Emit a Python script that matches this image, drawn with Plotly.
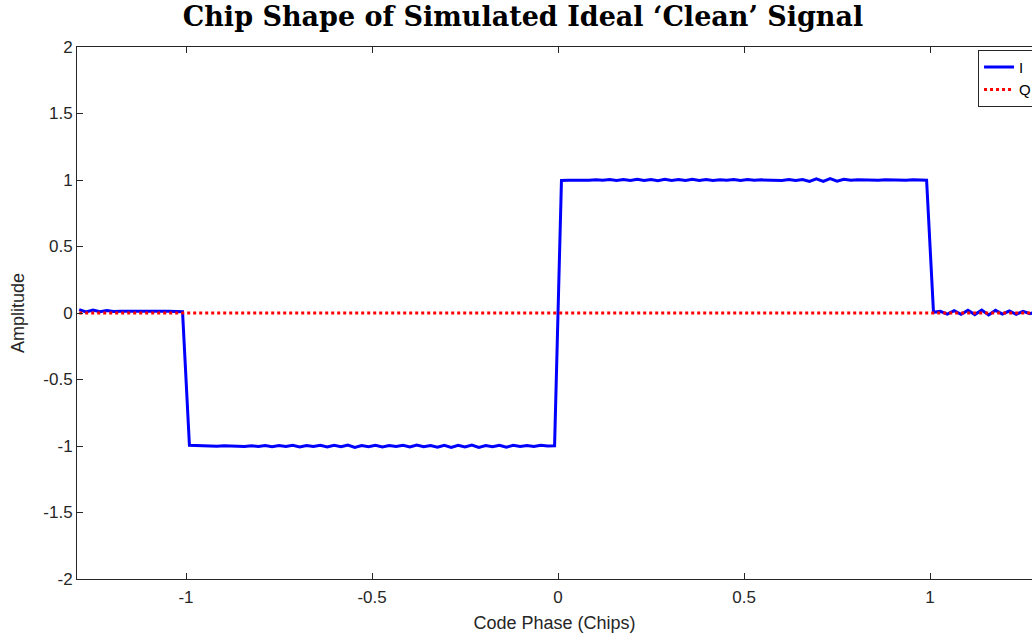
import numpy as np
import plotly.graph_objects as go

# Sampling: 54 samples per chip, offset so the chip edges fall between samples
SAMPLES_PER_CHIP = 54
SAMPLE_OFFSET = -0.0093
SAMPLE_INDEX = np.arange(-69, 71)

# In-phase samples (before chip, chip -1, chip +1, after chip)
I_PRE = [0.025, 0.008, 0.022, 0.010, 0.018, 0.012, 0.014, 0.013,
         0.014, 0.013, 0.014, 0.014, 0.013, 0.014, 0.013, 0.010]
I_NEG = [-0.995, -0.997, -1.000, -0.998, -1.002, -0.999, -1.001, -0.998, -1.003, -0.999,
         -1.004, -0.996, -1.006, -0.997, -1.003, -0.995, -1.007, -0.996, -1.004, -0.994,
         -1.008, -0.995, -1.006, -0.993, -1.010, -0.996, -1.005, -0.994, -1.007, -0.997,
         -1.004, -0.995, -1.008, -0.993, -1.006, -0.996, -1.009, -0.994, -1.011, -0.995,
         -1.008, -0.993, -1.010, -0.996, -1.006, -0.994, -1.009, -0.995, -1.004, -0.996,
         -1.003, -0.995, -1.000, -0.998]
I_POS = [0.997, 0.999, 0.998, 1.001, 0.999, 1.002, 0.998, 1.003, 0.997, 1.004,
         0.996, 1.005, 0.997, 1.004, 0.995, 1.006, 0.996, 1.003, 0.997, 1.005,
         0.996, 1.003, 0.997, 1.002, 0.998, 1.004, 0.996, 1.003, 0.998, 1.001,
         0.999, 1.002, 0.997, 1.003, 0.996, 1.004, 0.990, 1.008, 0.989, 1.010,
         0.991, 1.006, 0.998, 1.001, 0.999, 1.000, 0.998, 1.001, 0.999, 1.000,
         0.999, 1.001, 1.000, 0.999]
I_POST = [0.005, 0.012, -0.008, 0.018, -0.010, 0.020, -0.012, 0.022,
          -0.015, 0.020, -0.008, 0.015, -0.010, 0.012, -0.005, 0.010]

I_VALUES = I_PRE + I_NEG + I_POS + I_POST
# Quadrature channel carries nothing for the clean signal
Q_VALUES = [0.0] * len(I_VALUES)

X_TICKS = [-1, -0.5, 0, 0.5, 1]
X_TICK_LABELS = ["-1", "-0.5", "0", "0.5", "1"]
Y_TICKS = [-2, -1.5, -1, -0.5, 0, 0.5, 1, 1.5, 2]
Y_TICK_LABELS = ["-2", "-1.5", "-1", "-0.5", "0", "0.5", "1", "1.5", "2"]

code_phase = SAMPLE_OFFSET + SAMPLE_INDEX / SAMPLES_PER_CHIP

AX = "#262626"
FONT = "Liberation Sans, Arial, sans-serif"

fig = go.Figure()
fig.add_trace(go.Scatter(x=code_phase, y=I_VALUES, mode="lines", name="I",
                         line=dict(color="#0000FF", width=3)))
fig.add_trace(go.Scatter(x=code_phase, y=Q_VALUES, mode="lines", name="Q",
                         line=dict(color="#FF0000", width=3, dash="dot")))

fig.update_layout(
    width=1032, height=638,
    margin=dict(l=77, r=0, t=47, b=59, autoexpand=False),
    paper_bgcolor="white", plot_bgcolor="white",
    title=dict(text="<b>Chip Shape of Simulated Ideal \u2018Clean\u2019 Signal</b>",
               x=523 / 1032, xanchor="center", y=1 - 17 / 638, yanchor="middle",
               font=dict(family="DejaVu Serif, serif", size=27, color="black")),
    showlegend=True,
    legend=dict(x=0.9435, xanchor="left", y=0.995, yanchor="top",
                bgcolor="white", bordercolor="#262626", borderwidth=1,
                font=dict(family=FONT, size=15, color="black"),
                itemwidth=30, tracegroupgap=0),
    font=dict(family=FONT, color=AX),
)

fig.update_xaxes(range=[-1.293, 1.274], tickvals=X_TICKS, ticktext=X_TICK_LABELS,
                 showline=True, linecolor=AX, linewidth=1, mirror="ticks",
                 ticks="inside", ticklen=6, tickcolor=AX, showgrid=False, zeroline=False,
                 tickfont=dict(size=17, color=AX), ticklabelstandoff=3,
                 title=dict(text="Code Phase (Chips)", font=dict(size=18, color=AX), standoff=9))
fig.update_yaxes(range=[-2, 2], tickvals=Y_TICKS, ticktext=Y_TICK_LABELS,
                 showline=True, linecolor=AX, linewidth=1, mirror=False,
                 ticks="inside", ticklen=6, tickcolor=AX, showgrid=False, zeroline=False,
                 tickfont=dict(size=17, color=AX),
                 title=dict(text="Amplitude", font=dict(size=18, color=AX), standoff=14))

fig.write_html("out.html")
